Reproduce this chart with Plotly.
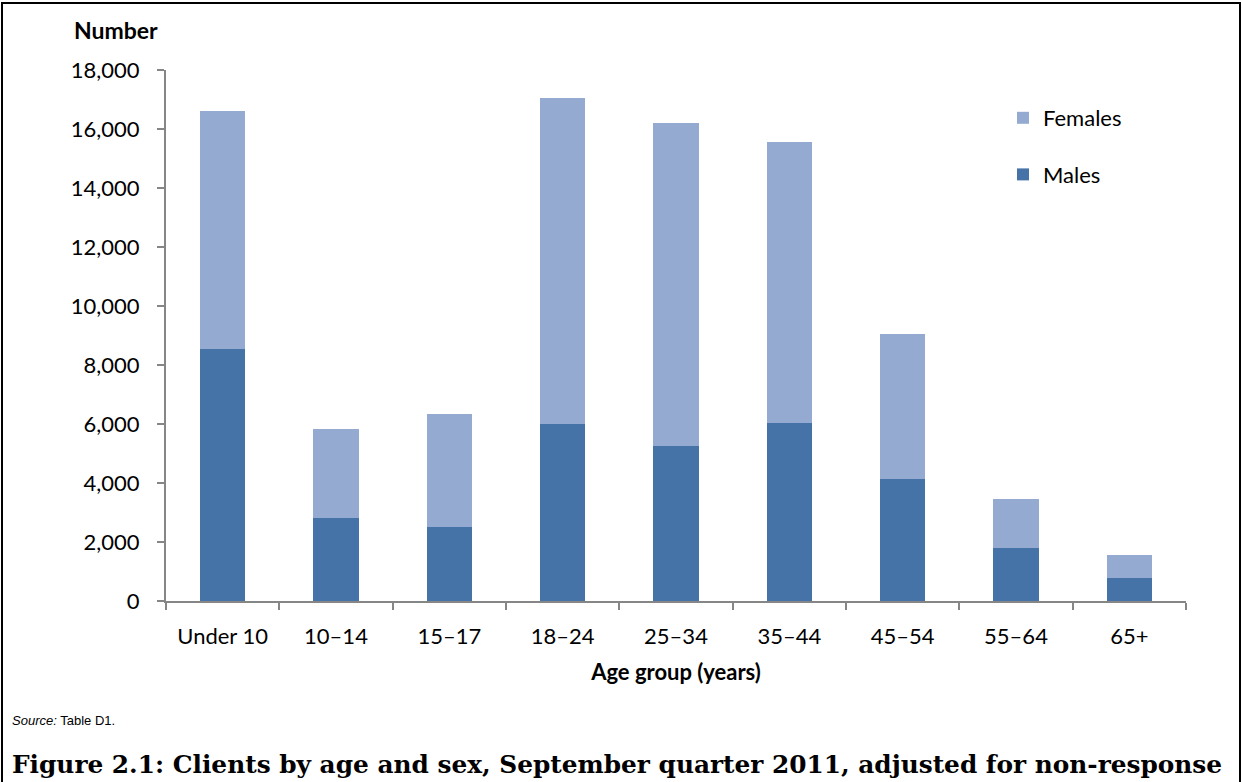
import plotly.graph_objects as go

# Clients by age group and sex
age_groups = ["Under 10", "10–14", "15–17", "18–24", "25–34", "35–44", "45–54", "55–64", "65+"]
males = [8540, 2825, 2520, 6010, 5255, 6045, 4135, 1795, 770]
females = [8070, 2995, 3820, 11050, 10960, 9505, 4915, 1675, 790]
y_ticks = [0, 2000, 4000, 6000, 8000, 10000, 12000, 14000, 16000, 18000]

W, H = 1242, 782


def px(x):
    """Pixel column -> paper x (margins are zero)."""
    return x / W


def py(y):
    """Pixel row from top -> paper y."""
    return 1 - y / H


AXIS_GREY = "#868686"

fig = go.Figure()
fig.add_bar(x=age_groups, y=males, name="Males", marker=dict(color="#4572A7", line=dict(width=0)),
            legendgroup="males", legendrank=2)
fig.add_bar(x=age_groups, y=females, name="Females", marker=dict(color="#95AAD0", line=dict(width=0)),
            legendgroup="females", legendrank=1)

fig.update_layout(
    width=W,
    height=H,
    margin=dict(l=0, r=0, t=0, b=0, autoexpand=False),
    barmode="stack",
    bargap=0.6,
    paper_bgcolor="white",
    plot_bgcolor="white",
    font=dict(family="Lato, 'Open Sans', sans-serif", size=22, color="black"),
    xaxis=dict(
        domain=[px(166), px(1186)],
        showline=True, linecolor=AXIS_GREY, linewidth=2,
        ticks="outside", tickson="boundaries", ticklen=7, tickwidth=2, tickcolor=AXIS_GREY,
        showgrid=False, zeroline=False,
        ticklabelstandoff=15,
        title=dict(text="<b>Age group (years)</b>", standoff=16, font=dict(size=22)),
    ),
    yaxis=dict(
        domain=[py(601), py(70)],
        range=[0, 18000],
        tickvals=y_ticks,
        tickformat=",d",
        showline=True, linecolor=AXIS_GREY, linewidth=2,
        ticks="outside", ticklen=7, tickwidth=2, tickcolor=AXIS_GREY,
        showgrid=False, zeroline=False,
        ticklabelstandoff=13,
    ),
    legend=dict(
        x=px(1003), y=py(97), xanchor="left", yanchor="top",
        traceorder="grouped", tracegroupgap=25,
        bgcolor="rgba(0,0,0,0)", font=dict(size=22),
    ),
    annotations=[
        dict(text="<b>Number</b>", x=px(116), y=py(30), xref="paper", yref="paper",
             xanchor="center", yanchor="middle", showarrow=False, font=dict(size=23)),
        dict(text="<i>Source:</i> Table D1.", x=px(10), y=py(720), xref="paper", yref="paper",
             xanchor="left", yanchor="middle", showarrow=False,
             font=dict(family="'Liberation Sans', Arial, sans-serif", size=13)),
        dict(text="<b>Figure 2.1: Clients by age and sex, September quarter 2011, adjusted for non-response</b>",
             x=px(10), y=py(764), xref="paper", yref="paper",
             xanchor="left", yanchor="middle", showarrow=False,
             font=dict(family="'DejaVu Serif', serif", size=24.8)),
    ],
    shapes=[
        dict(type="rect", xref="paper", yref="paper",
             x0=px(2), x1=px(1240), y0=py(3), y1=py(820),
             line=dict(color="black", width=2), fillcolor="rgba(0,0,0,0)"),
    ],
)

fig.write_html("out.html")
